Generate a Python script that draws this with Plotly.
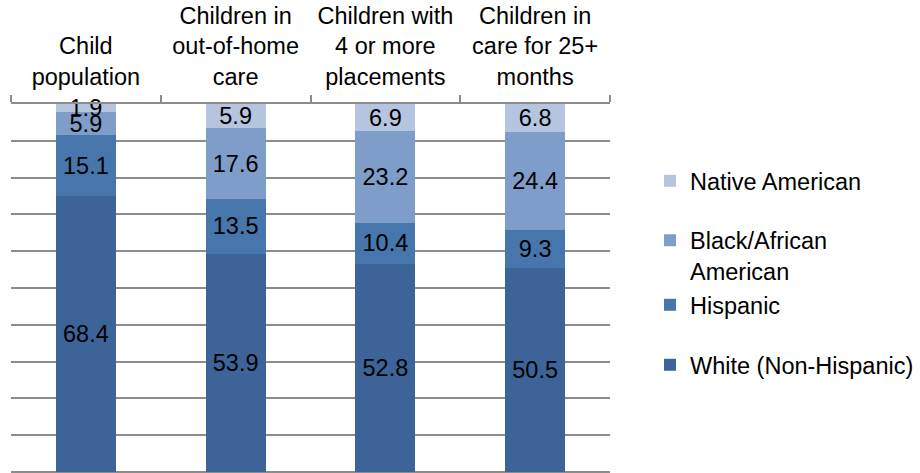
import plotly.graph_objects as go

categories = ["Child<br>population", "Children in<br>out-of-home<br>care",
              "Children with<br>4 or more<br>placements", "Children in<br>care for 25+<br>months"]
white = [68.4, 53.9, 52.8, 50.5]
hispanic = [15.1, 13.5, 10.4, 9.3]
black = [5.9, 17.6, 23.2, 24.4]
native = [1.9, 5.9, 6.9, 6.8]

series = [
    ("White (Non-Hispanic)", white, "#3D6498", "legend4"),
    ("Hispanic", hispanic, "#4676AC", "legend3"),
    ("Black/African<br>American", black, "#7F9DC9", "legend2"),
    ("Native American", native, "#B5C5E0", "legend"),
]

FONT = "Liberation Sans, Arial, sans-serif"
FS = 23.5

fig = go.Figure()
for name, vals, color, lg in series:
    fig.add_trace(go.Bar(
        name=name, x=categories, y=vals, text=[f"{v:.1f}" for v in vals],
        texttemplate="%{text}", textposition="inside", insidetextanchor="middle",
        constraintext="none", textangle=0, cliponaxis=False,
        textfont=dict(family=FONT, size=FS, color="#000000"),
        marker=dict(color=color, line=dict(width=0)),
        width=0.4, legend=lg, hoverinfo="skip",
    ))

H = 368.0
W = 599.0
def py(ypx):
    return (472 - ypx) / H
def px(xpx):
    return (xpx - 11) / W

lx = px(650)
common = dict(font=dict(family=FONT, size=FS, color="#000000"), bgcolor="rgba(0,0,0,0)",
              xanchor="left", yanchor="middle", valign="top", x=lx)

fig.update_layout(
    barmode="stack", barnorm="percent",
    width=920, height=473,
    margin=dict(l=11, r=310, t=104, b=1, autoexpand=False),
    paper_bgcolor="white", plot_bgcolor="white",
    font=dict(family=FONT, size=FS, color="#000000"),
    uniformtext=dict(mode="show", minsize=FS),
    showlegend=True,
    legend=dict(y=py(181), **common),
    legend2=dict(y=py(256), **common),
    legend3=dict(y=py(305), **common),
    legend4=dict(y=py(365), **common),
    xaxis=dict(side="top", showline=True, linecolor="#8c8c8c", linewidth=1.5,
               ticks="outside", tickson="boundaries", ticklen=7, tickcolor="#8c8c8c",
               tickwidth=1.5, showgrid=False, automargin=False,
               tickfont=dict(family=FONT, size=FS, color="#000000"),
               ticklabelstandoff=8),
    yaxis=dict(range=[0, 100], dtick=10, showgrid=True, gridcolor="#8c8c8c", gridwidth=1.5,
               showticklabels=False, zeroline=True, zerolinecolor="#8c8c8c", zerolinewidth=1.5,
               showline=False, ticks="", automargin=False),
)

fig.write_html("out.html", config={"displayModeBar": False},
               post_script="document.body.style.margin='0';document.body.style.overflow='hidden';")
